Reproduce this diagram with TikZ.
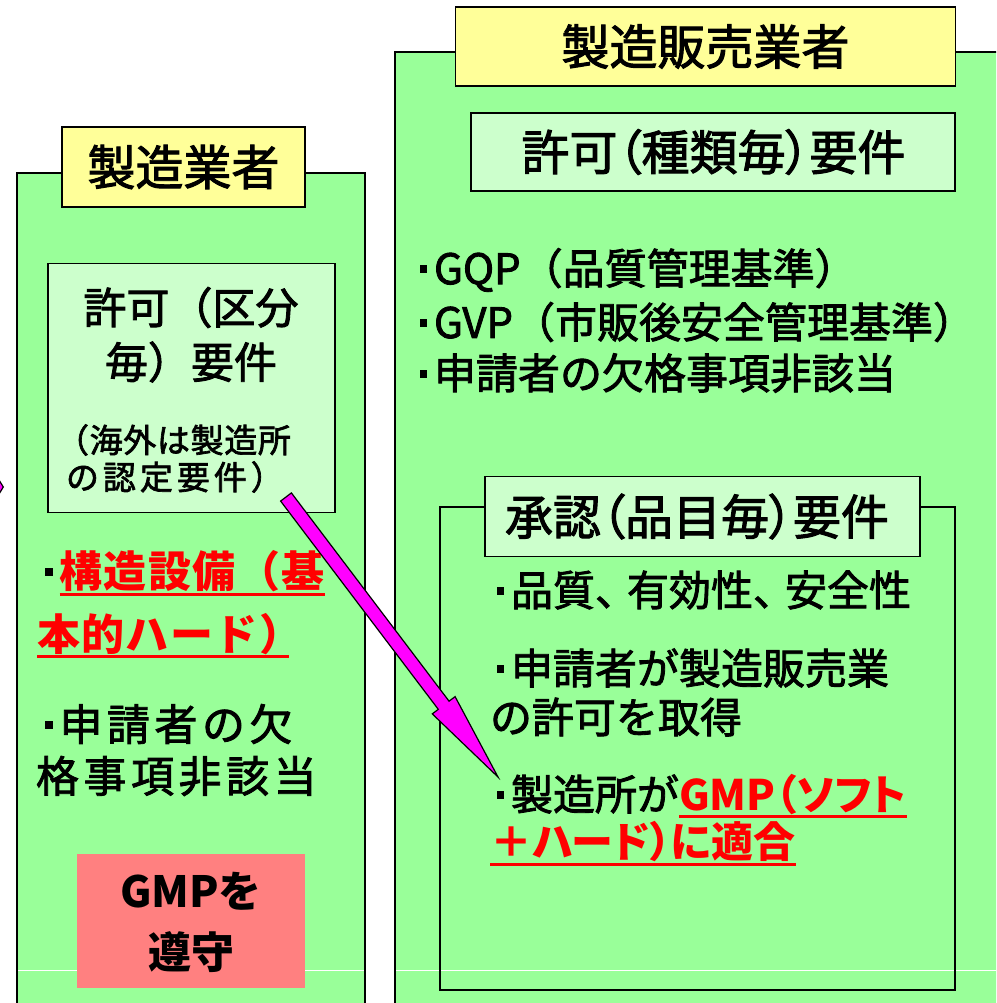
\documentclass[tikz,border=0pt]{standalone}
\usepackage{fontspec}
\setmainfont{Noto Sans CJK JP}[UprightFeatures={FakeBold=2}]
\usetikzlibrary{calc}
\definecolor{pgreen}{RGB}{153,255,153}
\definecolor{lgreen}{RGB}{204,255,204}
\definecolor{pyellow}{RGB}{255,255,153}
\definecolor{salmon}{RGB}{255,128,128}
\definecolor{mag}{RGB}{255,0,255}
\newcommand{\bul}{\makebox[0.5em][c]{\rule[0.27em]{0.18em}{0.18em}}}
\tikzset{
  panelborder/.style={draw=black, line width=1.8pt},
  ttlbox/.style={draw=black, line width=1.6pt, fill=pyellow, inner sep=0pt, font={\fontsize{48}{56}\selectfont}},
  subbox/.style={draw=black, line width=1.6pt, fill=lgreen, inner sep=0pt},
  ttltxt/.style={inner sep=0pt, outer sep=0pt, font={\fontsize{48}{56}\selectfont\addfontfeature{RawFeature=+palt}}},
  rbody/.style={inner sep=0pt, outer sep=0pt, anchor=west, font={\fontsize{42}{50}\selectfont}},
  rred/.style={inner sep=0pt, outer sep=0pt, text=red, font={\fontsize{42}{50}\selectfont\bfseries\addfontfeature{RawFeature=+palt}}},
  lbody/.style={inner sep=0pt, outer sep=0pt, anchor=west, font={\fontsize{43}{50}\selectfont\addfontfeature{LetterSpace=10.5}}},
  lred/.style={inner sep=0pt, outer sep=0pt, text=red, font={\fontsize{43}{50}\selectfont\bfseries\addfontfeature{LetterSpace=3.5}}},
  lbig/.style={inner sep=0pt, outer sep=0pt, font={\fontsize{43}{50}\selectfont}},
  lsmall/.style={inner sep=0pt, outer sep=0pt, anchor=west, font={\fontsize{33}{40}\selectfont\addfontfeature{LetterSpace=12}}},
  lsmallp/.style={inner sep=0pt, outer sep=0pt, anchor=west, font={\fontsize{33}{40}\selectfont\addfontfeature{LetterSpace=2}}},
  gmptxt/.style={inner sep=0pt, outer sep=0pt, font={\fontsize{43}{50}\selectfont\bfseries}},
  uline/.style={draw=red, line width=3pt},
  blockarrow/.style={fill=mag, draw=black, line width=1.2pt, line join=miter},
}
\begin{document}
\begin{tikzpicture}[x=1pt,y=-1pt]
\clip (0,0) rectangle (996,1003);
\useasboundingbox (0,0) rectangle (996,1003);
% panels
\fill[pgreen] (17,173) rectangle (365,1010);
\fill[pgreen] (395,52) rectangle (1010,1010);
\draw[white, line width=1pt] (17,970) -- (365,970);
\draw[white, line width=1pt] (395,970) -- (1000,970);
\draw[panelborder] (17,1010) -- (17,173) -- (365,173) -- (365,1010);
\draw[panelborder] (395,1010) -- (395,52) -- (1010,52);
\draw[panelborder] (440,990) rectangle (955,507);
% small arrow sliver at left edge
\draw[blockarrow] (-12,462) -- (3.3,487) -- (-12,512) -- cycle;
% title boxes
\node[ttlbox, minimum width=243pt, minimum height=80pt] (ltitle) at (183.5,167) {製造業者};
\node[ttlbox, minimum width=500pt, minimum height=79pt] (rtitle) at (705.5,46.5) {製造販売業者};
% right boxes
\node[subbox, minimum width=484pt, minimum height=78pt] (kyokaRbox) at (713,152) {};
\node[ttltxt] (kyokaR) at (713.5,152) {許可（種類毎）要件};
\node[subbox, minimum width=435pt, minimum height=80pt] (shoninbox) at (702.5,516.5) {};
\node[ttltxt] (shonin) at (697,516.5) {承認（品目毎）要件};
% left inner box
\node[subbox, minimum width=287pt, minimum height=249pt] (kyokaL) at (191.5,388) {};
\node[lbig] (kl1) at (191,307.5) {許可（区分};
\node[lbig] (kl2) at (191,362) {毎）要件};
\node[lsmallp] (ks1) at (56,440) {（海外は製造所};
\node[lsmall] (ks2) at (66,477) {の認定要件）};
% GMP box
\node[fill=salmon, minimum width=228pt, minimum height=134pt, inner sep=0pt] (gmpbox) at (191,921) {};
\node[gmptxt, anchor=base] (gmpa) at (191,907) {GMPを};
\node[gmptxt] (gmpb) at (191,952) {遵守};
% left body
\node[lbody] (kozoA) at (38,578) {\bul};
\node[lred, anchor=base west] (kozoB) at (kozoA.base east) {構造設備（基};
\node[lred, anchor=west] (kozoC) at (37,634) {本的ハード）\kern-14pt};
\draw[uline] ([yshift=-6.5pt]kozoB.base west) -- ([yshift=-6.5pt]kozoB.base east);
\draw[uline] ([yshift=-6.5pt]kozoC.base west) -- ([yshift=-6.5pt]kozoC.base east);
\node[lbody] (lk1) at (38,724) {\bul 申請者の欠};
\node[lbody] (lk2) at (36,776) {格事項非該当};
% right body
\node[rbody] (gqp) at (413,270) {\bul GQP（品質管理基準）};
\node[rbody] (gvp) at (413,322) {\bul GVP（市販後安全管理基準）};
\node[rbody] (rk) at (413,373) {\bul 申請者の欠格事項非該当};
\node[rbody] (hin) at (490,590) {\bul 品質、\kern-10pt有効性、\kern-10pt安全性};
\node[rbody] (sh1) at (490,668) {\bul 申請者が製造販売業};
\node[rbody] (sh2) at (490,717) {の許可を取得};
\node[rbody] (gm1) at (490,794) {\bul 製造所が};
\node[rred, anchor=base west] (gm2) at (gm1.base east) {GMP（ソフト};
\node[rred, anchor=west] (gm3) at (490,842) {＋ハード）に適合};
\draw[uline] ([yshift=-6.5pt]gm2.base west) -- ([yshift=-6.5pt]gm2.base east);
\draw[uline] ([yshift=-6.5pt]gm3.base west) -- ([yshift=-6.5pt]gm3.base east);
% arrow
\coordinate (arrTail) at (286,497);
\coordinate (arrTip) at (498,777);
\coordinate (arrBase) at ($(arrTip)!90pt!(arrTail)$);
\draw[blockarrow] ($(arrTail)!6.75pt!90:(arrTip)$) -- ($(arrBase)!6.75pt!90:(arrTip)$) -- ($(arrBase)!14.3pt!90:(arrTip)$) -- (arrTip) -- ($(arrBase)!14.3pt!-90:(arrTip)$) -- ($(arrBase)!6.75pt!-90:(arrTip)$) -- ($(arrTail)!6.75pt!-90:(arrTip)$) -- cycle;
\end{tikzpicture}
\end{document}
